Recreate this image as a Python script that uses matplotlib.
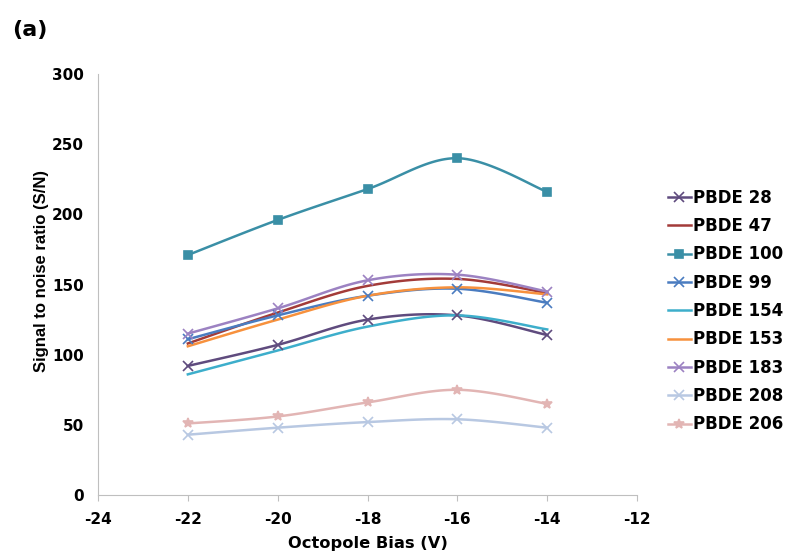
import numpy as np
import matplotlib
matplotlib.use("Agg")
import matplotlib.pyplot as plt

plt.rcParams['font.family'] = ['DejaVu Sans']
plt.rcParams['font.weight'] = 'bold'
plt.rcParams['axes.unicode_minus'] = False

bias = [-22, -20, -18, -16, -14]
names = ['PBDE 28', 'PBDE 47', 'PBDE 100', 'PBDE 99', 'PBDE 154',
         'PBDE 153', 'PBDE 183', 'PBDE 208', 'PBDE 206']
pbde28 = [92, 107, 125, 128, 114]
pbde47 = [108, 130, 149, 154, 144]
pbde100 = [171, 196, 218, 240, 216]
pbde99 = [111, 128, 142, 147, 137]
pbde154 = [86, 103, 120, 128, 118]
pbde153 = [106, 125, 142, 148, 143]
pbde183 = [115, 133, 153, 157, 145]
pbde208 = [43, 48, 52, 54, 48]
pbde206 = [51, 56, 66, 75, 65]
series = [pbde28, pbde47, pbde100, pbde99, pbde154, pbde153, pbde183, pbde208, pbde206]
colors = ['#5F4B7E', '#A33B39', '#3A8FA6', '#4A7CC0', '#3DAECB',
          '#F7913D', '#9C82C2', '#B8C8E2', '#E2B5B4']
markers = ['x', None, 's', 'x', None, None, 'x', 'x', '*']


def smooth(x, y, n=30):
    # bezier smoothing like Excel's smoothed line
    x = np.asarray(x, float)
    y = np.asarray(y, float)
    px = np.concatenate([[x[0]], x, [x[-1]]])
    py = np.concatenate([[y[0]], y, [y[-1]]])
    xs, ys = [], []
    for i in range(1, len(x)):
        p0 = np.array([px[i - 1], py[i - 1]])
        p1 = np.array([px[i], py[i]])
        p2 = np.array([px[i + 1], py[i + 1]])
        p3 = np.array([px[i + 2], py[i + 2]])
        c1 = p1 + (p2 - p0) / 6
        c2 = p2 - (p3 - p1) / 6
        t = np.linspace(0, 1, n)[:, None]
        b = (1 - t) ** 3 * p1 + 3 * (1 - t) ** 2 * t * c1 + 3 * (1 - t) * t ** 2 * c2 + t ** 3 * p2
        xs.extend(b[:, 0])
        ys.extend(b[:, 1])
    return xs, ys


fig = plt.figure(figsize=(7.87, 5.55), dpi=100)
ax = fig.add_axes([0.1245, 0.108, 0.685, 0.7587])

for name, vals, c, m in zip(names, series, colors, markers):
    sx, sy = smooth(bias, vals)
    ms = 6 if m == 's' else 7
    ax.plot(sx, sy, color=c, lw=1.8, zorder=2)
    if m is not None:
        ax.plot(bias, vals, ls='none', marker=m, color=c, ms=ms, mew=1.2, zorder=3)
    ax.plot([], [], color=c, lw=1.8, marker=m, ms=ms, mew=1.2, label=name)

ax.set_xlim(-24, -12)
ax.set_ylim(0, 300)
ax.set_xticks(range(-24, -11, 2))
ax.set_yticks(range(0, 301, 50))
for s in ['top', 'right']:
    ax.spines[s].set_visible(False)
for s in ['left', 'bottom']:
    ax.spines[s].set_color('#BFBFBF')
ax.tick_params(axis='x', colors='#BFBFBF', labelcolor='black', labelsize=11, length=4, pad=8)
ax.tick_params(axis='y', length=0, labelsize=11, labelcolor='black', pad=10)
for lab in ax.get_xticklabels() + ax.get_yticklabels():
    lab.set_fontweight('bold')

ax.set_xlabel('Octopole Bias (V)', fontsize=11.7, fontweight='bold', labelpad=7)
ax.set_ylabel('Signal to noise ratio (S/N)', fontsize=12, fontweight='bold',
              family=['Liberation Sans', 'DejaVu Sans'])
ax.yaxis.set_label_coords(-0.09, 0.532)

leg = ax.legend(loc='center left', bbox_to_anchor=(1.0575, 0.437), frameon=False,
                fontsize=12, handlelength=1.35, handletextpad=0.15, labelspacing=0.62,
                borderpad=0, borderaxespad=0)
for t in leg.get_texts():
    t.set_fontweight('bold')

fig.text(0.015, 0.935, '(a)', fontsize=16, fontweight='bold')

fig.savefig('out.png', dpi=100)
